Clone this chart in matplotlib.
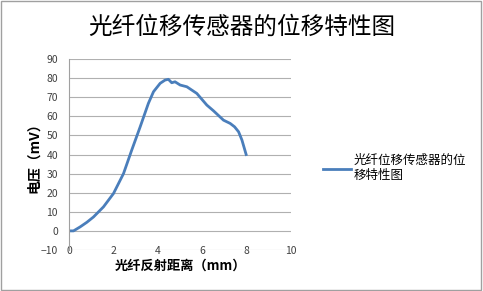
import matplotlib
matplotlib.use("Agg")
import matplotlib.pyplot as plt
from matplotlib.patches import Rectangle

plt.rcParams['font.family'] = ['Noto Sans CJK SC', 'DejaVu Sans']

# 光纤反射距离 (mm) / 电压 (mV)
dist = [0.0, 0.2, 0.5, 0.8, 1.1, 1.55, 2.0, 2.45, 2.82, 3.2, 3.57, 3.8, 4.1,
        4.32, 4.47, 4.62, 4.77, 5.0, 5.3, 5.75, 6.2, 6.5, 6.95, 7.25, 7.45,
        7.63, 7.78, 7.97]
volt = [0.0, 0.0, 2.1, 4.5, 7.3, 12.6, 19.6, 30.0, 42.3, 54.5, 66.8, 72.9, 77.3,
        79.0, 79.4, 77.6, 78.1, 76.4, 75.5, 72.0, 65.9, 62.9, 58.0, 56.3, 54.5,
        51.9, 47.6, 40.0]

title = "光纤位移传感器的位移特性图"
series_name = "光纤位移传感器的位\n移特性图"

fig = plt.figure(figsize=(4.83, 2.91), dpi=100)
fig.patches.append(Rectangle((0.002, 0.004), 0.994, 0.992, transform=fig.transFigure,
                             fill=False, edgecolor='#a0a0a0', linewidth=1))

ax = fig.add_axes([0.143, 0.141, 0.460, 0.656])
ax.plot(dist, volt, color='#4a7ebb', linewidth=2)
ax.set_xlim(0, 10)
ax.set_ylim(-10, 90)
ax.set_xticks(range(0, 11, 2))
ax.set_yticks(range(-10, 91, 10))
ax.grid(axis='y', color='#b0b0b0', linewidth=0.8)
ax.set_axisbelow(True)
for s in ['top', 'right', 'bottom']:
    ax.spines[s].set_visible(False)
ax.spines['left'].set_color('#a0a0a0')
ax.tick_params(length=0, labelsize=7.5, labelcolor='#404040')
ax.tick_params(axis='x', pad=-3)
ax.tick_params(axis='y', pad=8)

ax.set_xlabel("光纤反射距离（mm）", fontsize=9.5, fontweight='bold', labelpad=2)
ax.set_ylabel("电压（mV）", fontsize=10, fontweight='bold', labelpad=0)
fig.text(0.5, 0.907, title, ha='center', va='center', fontsize=17)

leg = fig.legend([ax.lines[0]], [series_name], loc='center left',
                 bbox_to_anchor=(0.655, 0.423), frameon=False, fontsize=9,
                 handlelength=2.3, handletextpad=0.2, borderpad=0)

fig.savefig("out.png", dpi=100)
